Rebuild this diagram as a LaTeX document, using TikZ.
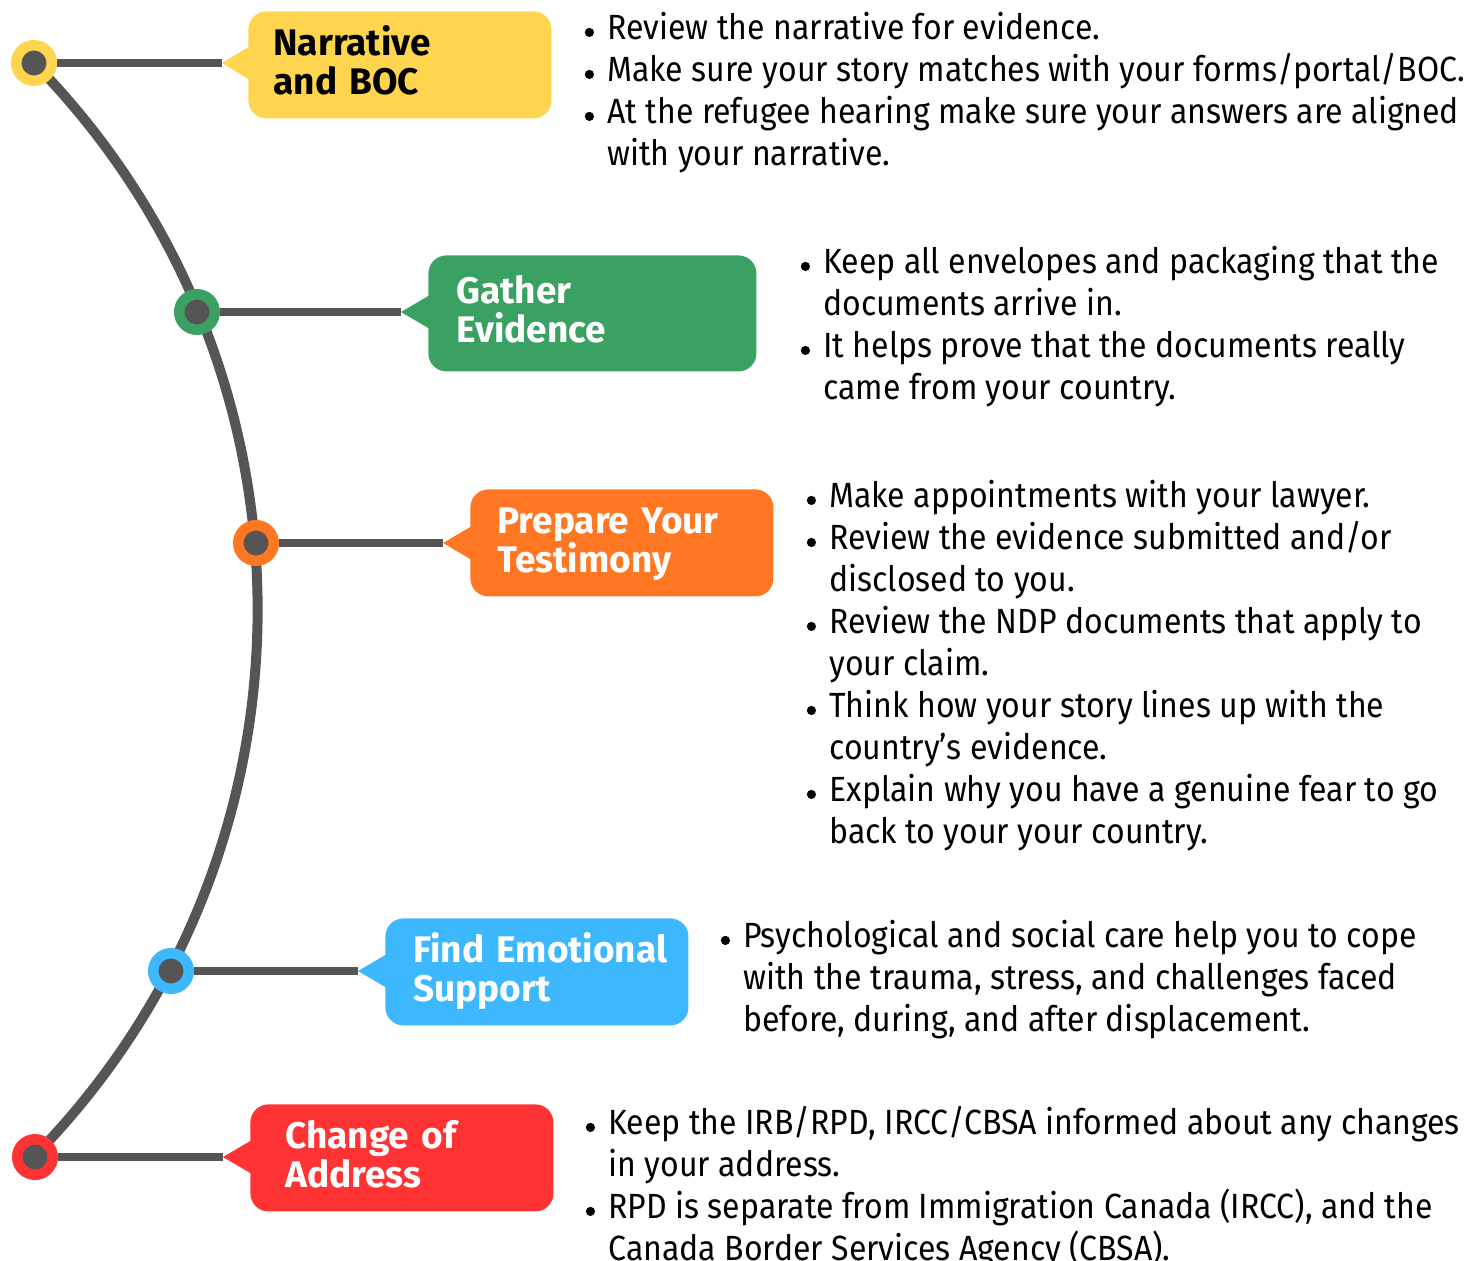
\documentclass[tikz,border=0pt]{standalone}
\usepackage{fontspec}
\setmainfont{Fira Sans}[FakeStretch=0.915, BoldFeatures={FakeStretch=1.0}]
\usetikzlibrary{calc}

\definecolor{spineGray}{HTML}{555555}
\definecolor{stepYellow}{HTML}{FFD54F}
\definecolor{stepGreen}{HTML}{3AA163}
\definecolor{stepOrange}{HTML}{FF7722}
\definecolor{stepBlue}{HTML}{3DB8FF}
\definecolor{stepRed}{HTML}{FF3333}

% round bullet with hanging indent for the note lists
\newcommand\dotglyph{\tikz[baseline=-3.5pt]\fill[black] (0pt,0pt) circle[radius=2.3pt];}
\newcommand\itm{\makebox[13.5pt][l]{\hspace*{2.2pt}\dotglyph}}
\newcommand\cont{\hspace*{13.5pt}}
\newcommand\firstline{\rule{0pt}{17.5pt}}

\begin{document}
\begin{tikzpicture}[x=0.5pt, y=-0.5pt,
  spine/.style={draw=spineGray, line width=5pt},
  arm/.style={draw=spineGray, line width=4pt},
  stepdot/.style={circle, fill=spineGray, draw=#1, line width=5.25pt,
    minimum size=17.75pt, inner sep=0pt},
  card/.style={fill=#1, rounded corners=9pt, anchor=north west, align=left,
    inner ysep=0pt, minimum height=53.5pt, text height=10pt, text depth=19.5pt,
    font=\bfseries\fontsize{18.5}{19.5}\selectfont},
  notes/.style={anchor=north west, align=left, inner sep=0pt, text=black,
    font=\fontsize{17.5}{21}\selectfont}
]
\useasboundingbox (0,0) rectangle (1482,1260);
\fill[white] (0,0) rectangle (1482,1260);

% curved spine
\draw[spine] (34,63) arc[start angle=-44.5, end angle=44.5, radius=780];

% cards
\node[card=stepYellow, text=black, inner xsep=12.5pt, text width=126.5pt]
  (card1) at (248,11) {Narrative\\and BOC};
\node[card=stepGreen, text=white, inner xsep=14pt, text width=136pt, minimum height=58pt]
  (card2) at (428,255) {Gather\\Evidence};
\node[card=stepOrange, text=white, inner xsep=13.5pt, text width=124.5pt]
  (card3) at (470,489) {Prepare Your\\Testimony};
\node[card=stepBlue, text=white, inner xsep=14pt, text width=123.5pt]
  (card4) at (385,918) {\mbox{Find Emotional}\\Support};
\node[card=stepRed, text=white, inner xsep=17.5pt, text width=116.5pt]
  (card5) at (250,1104) {Change of\\Address};

% pointer tips of the cards
\coordinate (tip1) at (222,63);
\coordinate (tip2) at (401,312);
\coordinate (tip3) at (443,543);
\coordinate (tip4) at (358,971);
\coordinate (tip5) at (223,1157);

\foreach \i/\c in {1/stepYellow,2/stepGreen,3/stepOrange,4/stepBlue,5/stepRed}{
  \fill[\c] (tip\i) -- ($(card\i.west |- tip\i)+(2,-17)$) -- ($(card\i.west |- tip\i)+(2,17)$) -- cycle;
}

% step markers on the spine
\node[stepdot=stepYellow] (dot1) at (34,63) {};
\node[stepdot=stepGreen]  (dot2) at (197,312) {};
\node[stepdot=stepOrange] (dot3) at (256,543) {};
\node[stepdot=stepBlue]   (dot4) at (171,971) {};
\node[stepdot=stepRed]    (dot5) at (35,1157) {};

% arms from markers to cards
\foreach \i in {1,...,5}{
  \draw[arm] (dot\i) -- (tip\i);
}

% notes
\node[notes] (notes1) at (580,4) {%
\firstline\itm Review the narrative for evidence.\\
\itm Make sure your story matches with your forms/portal/BOC.\\
\itm At the refugee hearing make sure your answers are aligned\\
\cont with your narrative.};

\node[notes] (notes2) at (796,238) {%
\firstline\itm Keep all envelopes and packaging that the\\
\cont documents arrive in.\\
\itm It helps prove that the documents really\\
\cont came from your country.};

\node[notes] (notes3) at (802,472) {%
\firstline\itm Make appointments with your lawyer.\\
\itm Review the evidence submitted and/or\\
\cont disclosed to you.\\
\itm Review the NDP documents that apply to\\
\cont your claim.\\
\itm Think how your story lines up with the\\
\cont country’s evidence.\\
\itm Explain why you have a genuine fear to go\\
\cont back to your your country.};

\node[notes] (notes4) at (716,912) {%
\firstline\itm Psychological and social care help you to cope\\
\cont with the trauma, stress, and challenges faced\\
\cont before, during, and after displacement.};

\node[notes] (notes5) at (581,1099) {%
\firstline\itm Keep the IRB/RPD, IRCC/CBSA informed about any changes\\
\cont in your address.\\
\itm RPD is separate from Immigration Canada (IRCC), and the\\
\cont Canada Border Services Agency (CBSA).};
\end{tikzpicture}
\end{document}
